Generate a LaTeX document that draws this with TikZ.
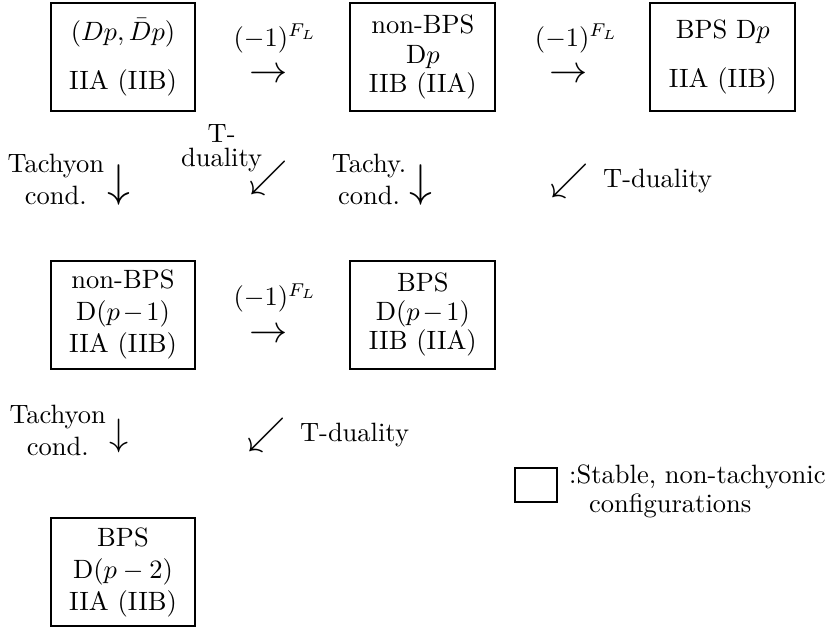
\documentclass[tikz,border=0pt]{standalone}
\usetikzlibrary{calc}
\usetikzlibrary{positioning}
\tikzset{
  brane/.style={draw, line width=0.75pt, align=center, minimum width=1.92cm, minimum height=1.43cm, inner sep=1pt},
  sym/.style={inner sep=0pt},
  lbl/.style={align=center, inner sep=1pt}
}

\begin{document}
\begin{tikzpicture}[node distance=1.96cm and 2.03cm]

  \useasboundingbox (-1.631,0.756) rectangle (9.428,-7.571);

  \node [brane] (pair) {$(Dp,\bar{D}p)$\\[6.5pt] IIA (IIB)};
  \node [brane, right=of pair] (nonbps) {non-BPS\\[-1pt] D$p$\\[-1pt] IIB (IIA)};
  \node [brane, right=of nonbps] (bps) {BPS D$p$\\[6.5pt] IIA (IIB)};

  \node [brane, below=of pair] (nonbpsb) {non-BPS\\ D($p\mkern-2mu-\mkern-2mu1$)\\ IIA (IIB)};
  \node [brane, right=of nonbpsb] (bpsb) {BPS\\[-1pt] D($p\mkern-2mu-\mkern-2mu1$)\\[-1pt] IIB (IIA)};
  \node [brane, below=of nonbpsb] (bpsc) {BPS\\ D($p-2$)\\ IIA (IIB)};

  % (-1)^{F_L} maps
  \node [sym, font=\Large] (fa) at ($(pair)!0.5!(nonbps)+(-0.06,-0.25)$) {$\rightarrow$};
  \node [lbl, above=4.5pt of fa, xshift=0.09cm] (fla) {$(-1)^{F_L}$};
  \node [sym, font=\Large] (fb) at ($(nonbps)!0.5!(bps)+(-0.05,-0.25)$) {$\rightarrow$};
  \node [lbl, above=4.5pt of fb, xshift=0.1cm] (flb) {$(-1)^{F_L}$};
  \node [sym, font=\Large] (fc) at ($(nonbpsb)!0.5!(bpsb)+(-0.06,-0.27)$) {$\rightarrow$};
  \node [lbl, above=4.5pt of fc, xshift=0.09cm] (flc) {$(-1)^{F_L}$};

  % tachyon condensation
  \node [sym, font=\LARGE, below=0.69cm of pair, xshift=-0.05cm] (ta) {$\downarrow$};
  \node [lbl, left=0pt of ta, yshift=0.07cm] (tla) {Tachyon\\cond.};
  \node [sym, font=\LARGE, below=0.69cm of nonbps, xshift=-0.02cm] (tb) {$\downarrow$};
  \node [lbl, left=0pt of tb, yshift=0.07cm] (tlb) {Tachy.\\cond.};
  \node [sym, font=\fontsize{15.7}{18}\selectfont, below=0.65cm of nonbpsb, xshift=-0.05cm] (tc) {$\downarrow$};
  \node [lbl, left=0pt of tc, yshift=0.07cm] (tlc) {Tachyon\\cond.};

  % T-duality
  \node [sym, font=\Large] (da) at ($(pair)!0.5!(nonbps)+(-0.06,-1.60)$) {$\swarrow$};
  \node [lbl] (dla) at ($(da)+(-0.62,0.39)$) {T-\\[-2.6pt]duality};
  \node [sym, font=\Large] (db) at ($(nonbps)!0.5!(bps)+(-0.04,-1.65)$) {$\swarrow$};
  \node [lbl, right=4pt of db] (dlb) {T-duality};
  \node [sym, font=\Large] (dc) at ($(nonbpsb)!0.5!(bpsb)+(-0.08,-1.60)$) {$\swarrow$};
  \node [lbl, right=3.9pt of dc] (dlc) {T-duality};

  % legend
  \node [draw, line width=0.75pt, minimum width=0.56cm, minimum height=0.45cm, inner sep=0pt] (key) at ($(bpsb)+(1.50,-2.26)$) {};
  \node [lbl, align=left, right=3pt of key, yshift=-0.08cm] (keytext) {:Stable, non-tachyonic\\[-1pt]\hspace*{7.5pt}configurations};

\end{tikzpicture}
\end{document}
